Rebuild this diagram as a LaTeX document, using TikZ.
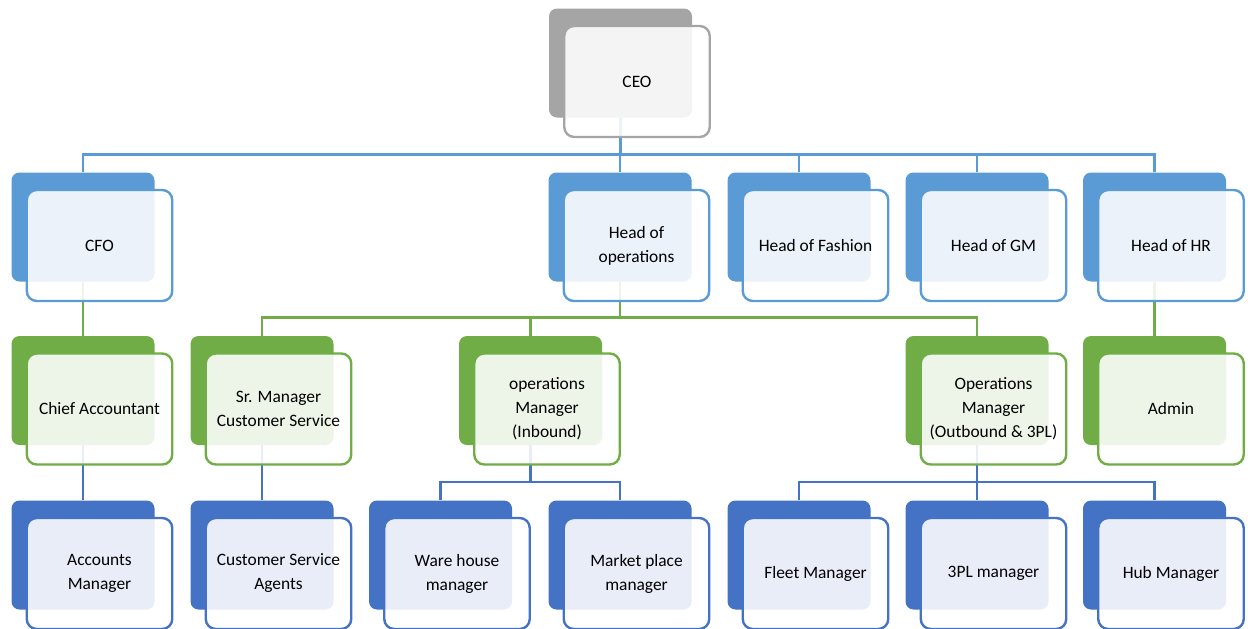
\documentclass[tikz,border=0pt]{standalone}
\usepackage{fontspec}
\setmainfont{Carlito}
\usepackage{tikz}
\usetikzlibrary{positioning}
\definecolor{ceogray}{HTML}{A5A5A5}
\definecolor{headblue}{HTML}{5B9BD5}
\definecolor{mgrgreen}{HTML}{70AD47}
\definecolor{staffblue}{HTML}{4472C4}
\tikzset{
  backbox/.style={rectangle, rounded corners=8pt, minimum width=143pt,
    minimum height=109pt, inner sep=0pt, fill=#1},
  frontbox/.style={rectangle, rounded corners=10pt, minimum width=145.5pt,
    minimum height=111pt, inner sep=0pt, draw=#1, line width=2.4pt,
    fill=white, fill opacity=0.88, text opacity=1, align=center,
    font=\fontsize{17.4}{24}\selectfont, xshift=16.5pt, yshift=-18.5pt},
  linkline/.style={draw=#1, line width=2.5pt},
}

\begin{document}
\begin{tikzpicture}[x=1pt,y=-1pt]
  \useasboundingbox (0,0) rectangle (1248,629);
  % Back boxes
  \node[backbox=ceogray] (ceoB) at (620.5,63) {};
  \node[backbox=headblue] (cfoB) at (83,227) {};
  \node[backbox=headblue] (opsB) at (620,227) {};
  \node[backbox=headblue] (fashB) at (799,227) {};
  \node[backbox=headblue] (gmB) at (977,227) {};
  \node[backbox=headblue] (hrB) at (1154.5,227) {};
  \node[backbox=mgrgreen] (chiefB) at (83,390.5) {};
  \node[backbox=mgrgreen] (srB) at (262,390.5) {};
  \node[backbox=mgrgreen] (inB) at (530.5,390.5) {};
  \node[backbox=mgrgreen] (outB) at (977,390.5) {};
  \node[backbox=mgrgreen] (adminB) at (1154.5,390.5) {};
  \node[backbox=staffblue] (accB) at (83,555) {};
  \node[backbox=staffblue] (agentB) at (262,555) {};
  \node[backbox=staffblue] (wareB) at (440.5,555) {};
  \node[backbox=staffblue] (marketB) at (620,555) {};
  \node[backbox=staffblue] (fleetB) at (799,555) {};
  \node[backbox=staffblue] (tplB) at (977,555) {};
  \node[backbox=staffblue] (hubB) at (1154.5,555) {};
  % Links
  \foreach \n in {cfoB,opsB,fashB,gmB,hrB}
    \draw[linkline=headblue] (ceoB.south) -- ++(0,37) -| (\n.north);
  \foreach \n in {srB,inB,outB}
    \draw[linkline=mgrgreen] (opsB.south) -- ++(0,36) -| (\n.north);
  \draw[linkline=mgrgreen] (cfoB.south) -- (chiefB.north);
  \draw[linkline=mgrgreen] (hrB.south) -- (adminB.north);
  \draw[linkline=staffblue] (chiefB.south) -- (accB.north);
  \draw[linkline=staffblue] (srB.south) -- (agentB.north);
  \foreach \n in {wareB,marketB}
    \draw[linkline=staffblue] (inB.south) -- ++(0,37) -| (\n.north);
  \foreach \n in {fleetB,tplB,hubB}
    \draw[linkline=staffblue] (outB.south) -- ++(0,37) -| (\n.north);
  % Front boxes
  \node[frontbox=ceogray] (ceo) at (ceoB) {CEO};
  \node[frontbox=headblue] (cfo) at (cfoB) {CFO};
  \node[frontbox=headblue] (ops) at (opsB) {Head of\\operations};
  \node[frontbox=headblue] (fash) at (fashB) {Head of Fashion};
  \node[frontbox=headblue] (gm) at (gmB) {Head of GM};
  \node[frontbox=headblue] (hr) at (hrB) {Head of HR};
  \node[frontbox=mgrgreen] (chief) at (chiefB) {Chief Accountant};
  \node[frontbox=mgrgreen] (sr) at (srB) {Sr. Manager\\Customer Service};
  \node[frontbox=mgrgreen] (in) at (inB) {operations\\Manager\\(Inbound)};
  \node[frontbox=mgrgreen] (out) at (outB) {Operations\\Manager\\(Outbound \& 3PL)};
  \node[frontbox=mgrgreen] (admin) at (adminB) {Admin};
  \node[frontbox=staffblue] (acc) at (accB) {Accounts\\Manager};
  \node[frontbox=staffblue] (agent) at (agentB) {Customer Service\\Agents};
  \node[frontbox=staffblue] (ware) at (wareB) {Ware house\\manager};
  \node[frontbox=staffblue] (market) at (marketB) {Market place\\manager};
  \node[frontbox=staffblue] (fleet) at (fleetB) {Fleet Manager};
  \node[frontbox=staffblue] (tpl) at (tplB) {3PL manager};
  \node[frontbox=staffblue] (hub) at (hubB) {Hub Manager};
\end{tikzpicture}
\end{document}
